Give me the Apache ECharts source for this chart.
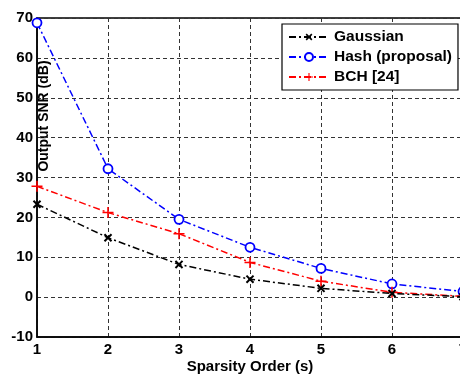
<!DOCTYPE html>
<html>
<head>
<meta charset="utf-8">
<script src="https://cdn.jsdelivr.net/npm/echarts@6/dist/echarts.min.js"></script>
<style>
  html, body { margin: 0; padding: 0; background: #fff; }
  #container_01 { width: 460px; height: 374px; }
</style>
</head>
<body>
<div id="container_01"></div>
<script>
// values
const sparsity = [1, 2, 3, 4, 5, 6, 7];
const gaussian = [23.3, 14.9, 8.2, 4.5, 2.2, 0.9, 0.1];
const hash = [68.8, 32.2, 19.5, 12.5, 7.2, 3.3, 1.4];
const bch = [27.8, 21.2, 15.9, 8.7, 4.0, 1.2, 0.2];

const plusPath = 'path://M4.3,0H5.7V10H4.3ZM0,4.3H10V5.7H0Z';
const crossPath = 'path://M4,0H6V10H4ZM0,4H10V6H0Z';
const dashDot = [7, 3, 2, 3];

function pairs(ys) {
    return sparsity.map(function (x, i) { return [x, ys[i]]; });
}

var chartDom = document.getElementById('container_01');
var myChart = echarts.init(chartDom);
var option;

const font = 'Liberation Sans, Arial, sans-serif';

option = {
    animation: false,
    grid: {
        left: 37,
        top: 18,
        width: 426,
        height: 319,
        outerBoundsMode: 'none',
        containLabel: false,
        show: true,
        borderColor: '#000',
        borderWidth: 1.5
    },
    legend: {
        orient: 'vertical',
        left: 282,
        top: 24,
        padding: [5, 6, 5, 6],
        itemGap: 4,
        itemWidth: 40,
        itemHeight: 10,
        backgroundColor: '#fff',
        borderColor: '#000',
        borderWidth: 1.2,
        textStyle: { fontFamily: font, fontWeight: 'bold', fontSize: 15.5, color: '#000' },
        data: ['Gaussian', 'Hash (proposal)', 'BCH [24]']
    },
    xAxis: {
        type: 'value',
        min: 1,
        max: 7,
        interval: 1,
        name: 'Sparsity Order (s)',
        nameLocation: 'middle',
        nameGap: 22,
        nameMoveOverlap: false,
        nameTextStyle: { fontFamily: font, fontWeight: 'bold', fontSize: 15, color: '#000' },
        axisLine: { onZero: false, lineStyle: { color: '#000', width: 1.5 } },
        axisTick: { show: false },
        axisLabel: { fontFamily: font, fontWeight: 'bold', fontSize: 15, color: '#000', margin: 5 },
        splitLine: { lineStyle: { color: '#333', type: [4, 3], width: 1 } }
    },
    yAxis: {
        type: 'value',
        min: -10,
        max: 70,
        interval: 10,
        axisLine: { lineStyle: { color: '#000', width: 1.5 } },
        axisTick: { show: false },
        axisLabel: { fontFamily: font, fontWeight: 'bold', fontSize: 15, color: '#000', margin: 4 },
        splitLine: { lineStyle: { color: '#333', type: [4, 3], width: 1 } }
    },
    graphic: [
        {
            type: 'text',
            x: 37,
            y: 116,
            rotation: Math.PI / 2,
            style: {
                text: 'Output SNR (dB)',
                fontFamily: font,
                fontWeight: 'bold',
                fontSize: 14,
                fill: '#000',
                align: 'center',
                verticalAlign: 'top'
            }
        }
    ],
    series: [
        {
            name: 'Gaussian',
            type: 'line',
            data: pairs(gaussian),
            symbol: crossPath,
            symbolRotate: 45,
            symbolSize: 10,
            color: '#000',
            lineStyle: { color: '#000', width: 1.5, type: dashDot },
            itemStyle: { color: '#000' },
            z: 3
        },
        {
            name: 'Hash (proposal)',
            type: 'line',
            data: pairs(hash),
            symbol: 'circle',
            symbolSize: 9,
            color: '#0000ff',
            lineStyle: { color: '#0000ff', width: 1.5, type: dashDot },
            itemStyle: { color: '#fff', borderColor: '#0000ff', borderWidth: 1.8 },
            z: 2
        },
        {
            name: 'BCH [24]',
            type: 'line',
            data: pairs(bch),
            symbol: plusPath,
            symbolSize: 11,
            color: '#ff0000',
            lineStyle: { color: '#ff0000', width: 1.5, type: dashDot },
            itemStyle: { color: '#ff0000' },
            z: 2
        }
    ]
};

option && myChart.setOption(option);
window.addEventListener('resize', function () {
    myChart.resize();
});
</script>
</body>
</html>
